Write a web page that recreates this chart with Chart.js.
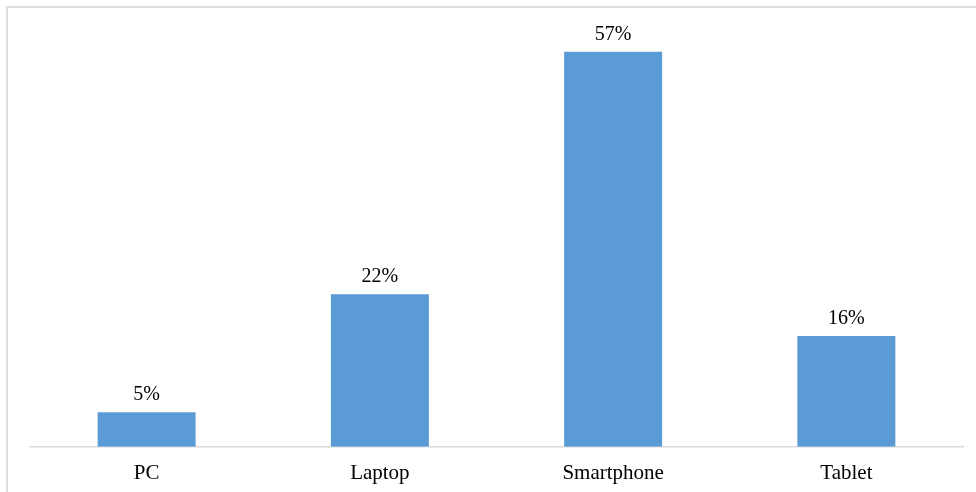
<!DOCTYPE html>
<html>
<head>
<meta charset="utf-8">
<script src="https://cdn.jsdelivr.net/npm/chart.js@4"></script>
<style>
  html, body { margin: 0; padding: 0; background: #fff; }
  #wrap { position: relative; width: 976px; height: 492px; overflow: hidden; }
  #frame {
    position: absolute; left: 6px; top: 6px; width: 1000px; height: 520px;
    border: 2px solid #dedede; box-sizing: border-box;
  }
  canvas { position: absolute; left: 0; top: 0; }
</style>
</head>
<body>
<div id="wrap">
  <div id="frame"></div>
  <canvas id="deviceChart" width="976" height="492"></canvas>
</div>
<script>
// Device usage share
const devices = ["PC", "Laptop", "Smartphone", "Tablet"];
const shares = [5, 22, 57, 16];
const valueLabels = ["5%", "22%", "57%", "16%"];

const serif = "'Liberation Serif', 'Times New Roman', serif";

// Writes the percentage above each bar
const barLabels = {
  id: "barLabels",
  afterDatasetsDraw(chart) {
    const ctx = chart.ctx;
    const meta = chart.getDatasetMeta(0);
    ctx.save();
    ctx.font = "20px " + serif;
    ctx.fillStyle = "#000";
    ctx.textAlign = "center";
    ctx.textBaseline = "alphabetic";
    meta.data.forEach((bar, i) => {
      ctx.fillText(valueLabels[i], bar.x, bar.y - 12);
    });
    ctx.restore();
  },
};

const ctx = document.getElementById("deviceChart").getContext("2d");
const deviceChart = new Chart(ctx, {
  type: "bar",
  data: {
    labels: devices,
    datasets: [
      {
        data: shares,
        backgroundColor: "#5B9BD5",
        borderWidth: 0,
        barPercentage: 0.42,
        categoryPercentage: 1,
      },
    ],
  },
  options: {
    responsive: false,
    animation: false,
    layout: { padding: { left: 30, right: 13, top: 31, bottom: -8 } },
    plugins: {
      legend: { display: false },
      tooltip: { enabled: false },
    },
    scales: {
      x: {
        grid: { display: false, drawTicks: false },
        border: { color: "#d9d9d9", width: 1.5 },
        ticks: {
          color: "#000",
          padding: 14,
          font: { family: serif, size: 21 },
        },
      },
      y: {
        display: false,
        min: 0,
        max: 60,
      },
    },
  },
  plugins: [barLabels],
});
</script>
</body>
</html>
